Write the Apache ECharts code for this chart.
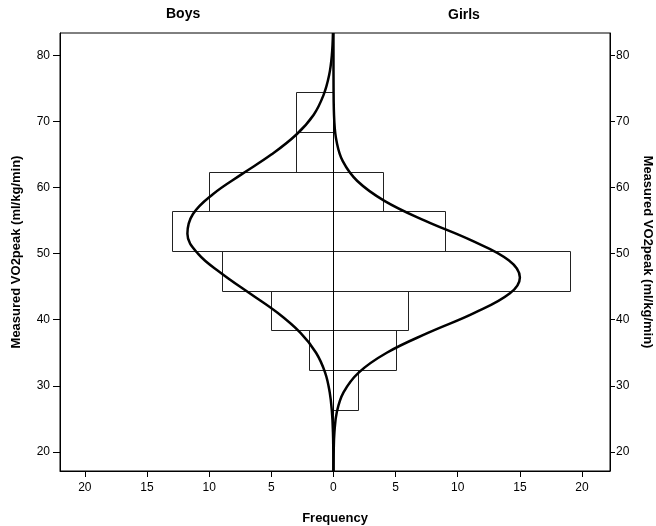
<!DOCTYPE html>
<html>
<head>
<meta charset="utf-8">
<script src="https://cdn.jsdelivr.net/npm/echarts@6/dist/echarts.min.js"></script>
<style>
  html, body { margin: 0; padding: 0; background: #fff; }
  #chart { width: 656px; height: 526px; }
</style>
</head>
<body>
<div id="chart"></div>
<script>
  // bins (lower edge of each 6-unit class)
  const binStarts = [26.4, 32.4, 38.4, 44.4, 50.4, 56.4, 62.4, 68.4]
  const binWidth = 6
  const boysCounts = [0, 2, 5, 9, 13, 10, 3, 3]
  const girlsCounts = [2, 5, 6, 19, 9, 4, 0, 0]

  // normal curves (VO2peak value, frequency)
  const boysCurveY = [17.1, 20, 23, 26, 29, 32, 35, 38, 41, 44, 47, 50, 53, 56, 59, 62, 65, 68, 71, 74, 77, 80, 83.4]
  const boysCurveF = [0, 0.01, 0.04, 0.12, 0.3, 0.67, 1.4, 2.65, 4.47, 6.74, 9.0, 10.9, 11.75, 11.3, 9.7, 7.4, 5.0, 3.0, 1.6, 0.8, 0.35, 0.13, 0.04]
  const girlsCurveY = [17.1, 20, 23, 26, 29, 32, 35, 38, 41, 44, 46.4, 49, 52, 55, 58, 61, 64, 67, 70, 75, 83.4]
  const girlsCurveF = [0, 0.02, 0.08, 0.27, 0.81, 2.03, 4.29, 7.6, 11.3, 14.2, 15.0, 14.1, 11.1, 7.35, 4.1, 1.92, 0.75, 0.25, 0.07, 0.01, 0]

  const xTicks = [-20, -15, -10, -5, 0, 5, 10, 15, 20]
  const yTicks = [20, 30, 40, 50, 60, 70, 80]

  const xMin = -22, xMax = 22.25
  const yMin = 17.1, yMax = 83.4

  // boys go to the left (negative), girls to the right
  let barData = []
  for (let i = 0; i < binStarts.length; i++) {
    if (boysCounts[i] > 0) barData.push([binStarts[i], binStarts[i] + binWidth, -boysCounts[i]])
    if (girlsCounts[i] > 0) barData.push([binStarts[i], binStarts[i] + binWidth, girlsCounts[i]])
  }
  const boysLine = boysCurveY.map((v, i) => [-boysCurveF[i], v])
  const girlsLine = girlsCurveY.map((v, i) => [girlsCurveF[i], v])

  const tickFont = { color: '#000', fontSize: 12, fontFamily: 'Liberation Sans Narrow, Liberation Sans, sans-serif' }
  const nameFont = { color: '#000', fontSize: 13, fontWeight: 'bold', fontFamily: 'Liberation Sans, Arial, sans-serif' }

  const chart = echarts.init(document.getElementById('chart'))
  chart.setOption({
    animation: false,
    backgroundColor: '#fff',
    grid: {
      left: 60, right: 46, top: 33, bottom: 55,
      containLabel: false, outerBoundsMode: 'none',
      show: true, borderColor: '#000', borderWidth: 1
    },
    graphic: [
      { type: 'text', left: 166, top: 7, style: { text: 'Boys', fill: '#000', font: 'bold 14px Liberation Sans, sans-serif' } },
      { type: 'text', left: 448, top: 8, style: { text: 'Girls', fill: '#000', font: 'bold 14px Liberation Sans, sans-serif' } }
    ],
    xAxis: {
      type: 'value',
      min: xMin,
      max: xMax,
      name: 'Frequency',
      nameLocation: 'middle',
      nameGap: 41,
      nameTextStyle: nameFont,
      axisLine: { show: true, onZero: false, lineStyle: { color: '#000', width: 1 } },
      axisTick: { show: true, length: 6, customValues: xTicks, lineStyle: { color: '#000' } },
      axisLabel: { margin: 11, customValues: xTicks, formatter: v => String(Math.abs(v)), ...tickFont },
      splitLine: { show: false }
    },
    yAxis: [
      {
        type: 'value',
        position: 'left',
        min: yMin,
        max: yMax,
        name: 'Measured VO2peak (ml/kg/min)',
        nameLocation: 'middle',
        nameGap: 37,
        nameTextStyle: nameFont,
        axisLine: { show: true, onZero: false, lineStyle: { color: '#000', width: 1 } },
        axisTick: { show: true, length: 7, customValues: yTicks, lineStyle: { color: '#000' } },
        axisLabel: { margin: 10, customValues: yTicks, ...tickFont },
        splitLine: { show: false }
      },
      {
        type: 'value',
        position: 'right',
        min: yMin,
        max: yMax,
        name: 'Measured VO2peak (ml/kg/min)',
        nameLocation: 'middle',
        nameGap: 31,
        nameRotate: -90,
        nameTextStyle: nameFont,
        axisLine: { show: true, onZero: false, lineStyle: { color: '#000', width: 1 } },
        axisTick: { show: true, length: 5, customValues: yTicks, lineStyle: { color: '#000' } },
        axisLabel: { margin: 6, customValues: yTicks, ...tickFont },
        splitLine: { show: false }
      }
    ],
    series: [
      {
        type: 'custom',
        silent: true,
        data: barData,
        renderItem: function (params, api) {
          const p1 = api.coord([0, api.value(1)])
          const p2 = api.coord([api.value(2), api.value(0)])
          const x0 = Math.round(Math.min(p1[0], p2[0])) + 0.5
          const x1 = Math.round(Math.max(p1[0], p2[0])) + 0.5
          const y0 = Math.round(p1[1]) + 0.5
          const y1 = Math.round(p2[1]) + 0.5
          return {
            type: 'rect',
            shape: { x: x0, y: y0, width: x1 - x0, height: y1 - y0 },
            style: { fill: 'none', stroke: '#222', lineWidth: 1 }
          }
        },
        markLine: {
          silent: true,
          symbol: 'none',
          label: { show: false },
          lineStyle: { color: '#000', width: 1, type: 'solid' },
          data: [{ xAxis: 0 }]
        },
        z: 2
      },
      {
        type: 'line',
        name: 'Boys',
        data: boysLine,
        smooth: 0.4,
        symbol: 'none',
        silent: true,
        lineStyle: { color: '#000', width: 2.5 },
        z: 3
      },
      {
        type: 'line',
        name: 'Girls',
        data: girlsLine,
        smooth: 0.4,
        symbol: 'none',
        silent: true,
        lineStyle: { color: '#000', width: 2.5 },
        z: 3
      }
    ]
  })
</script>
</body>
</html>
